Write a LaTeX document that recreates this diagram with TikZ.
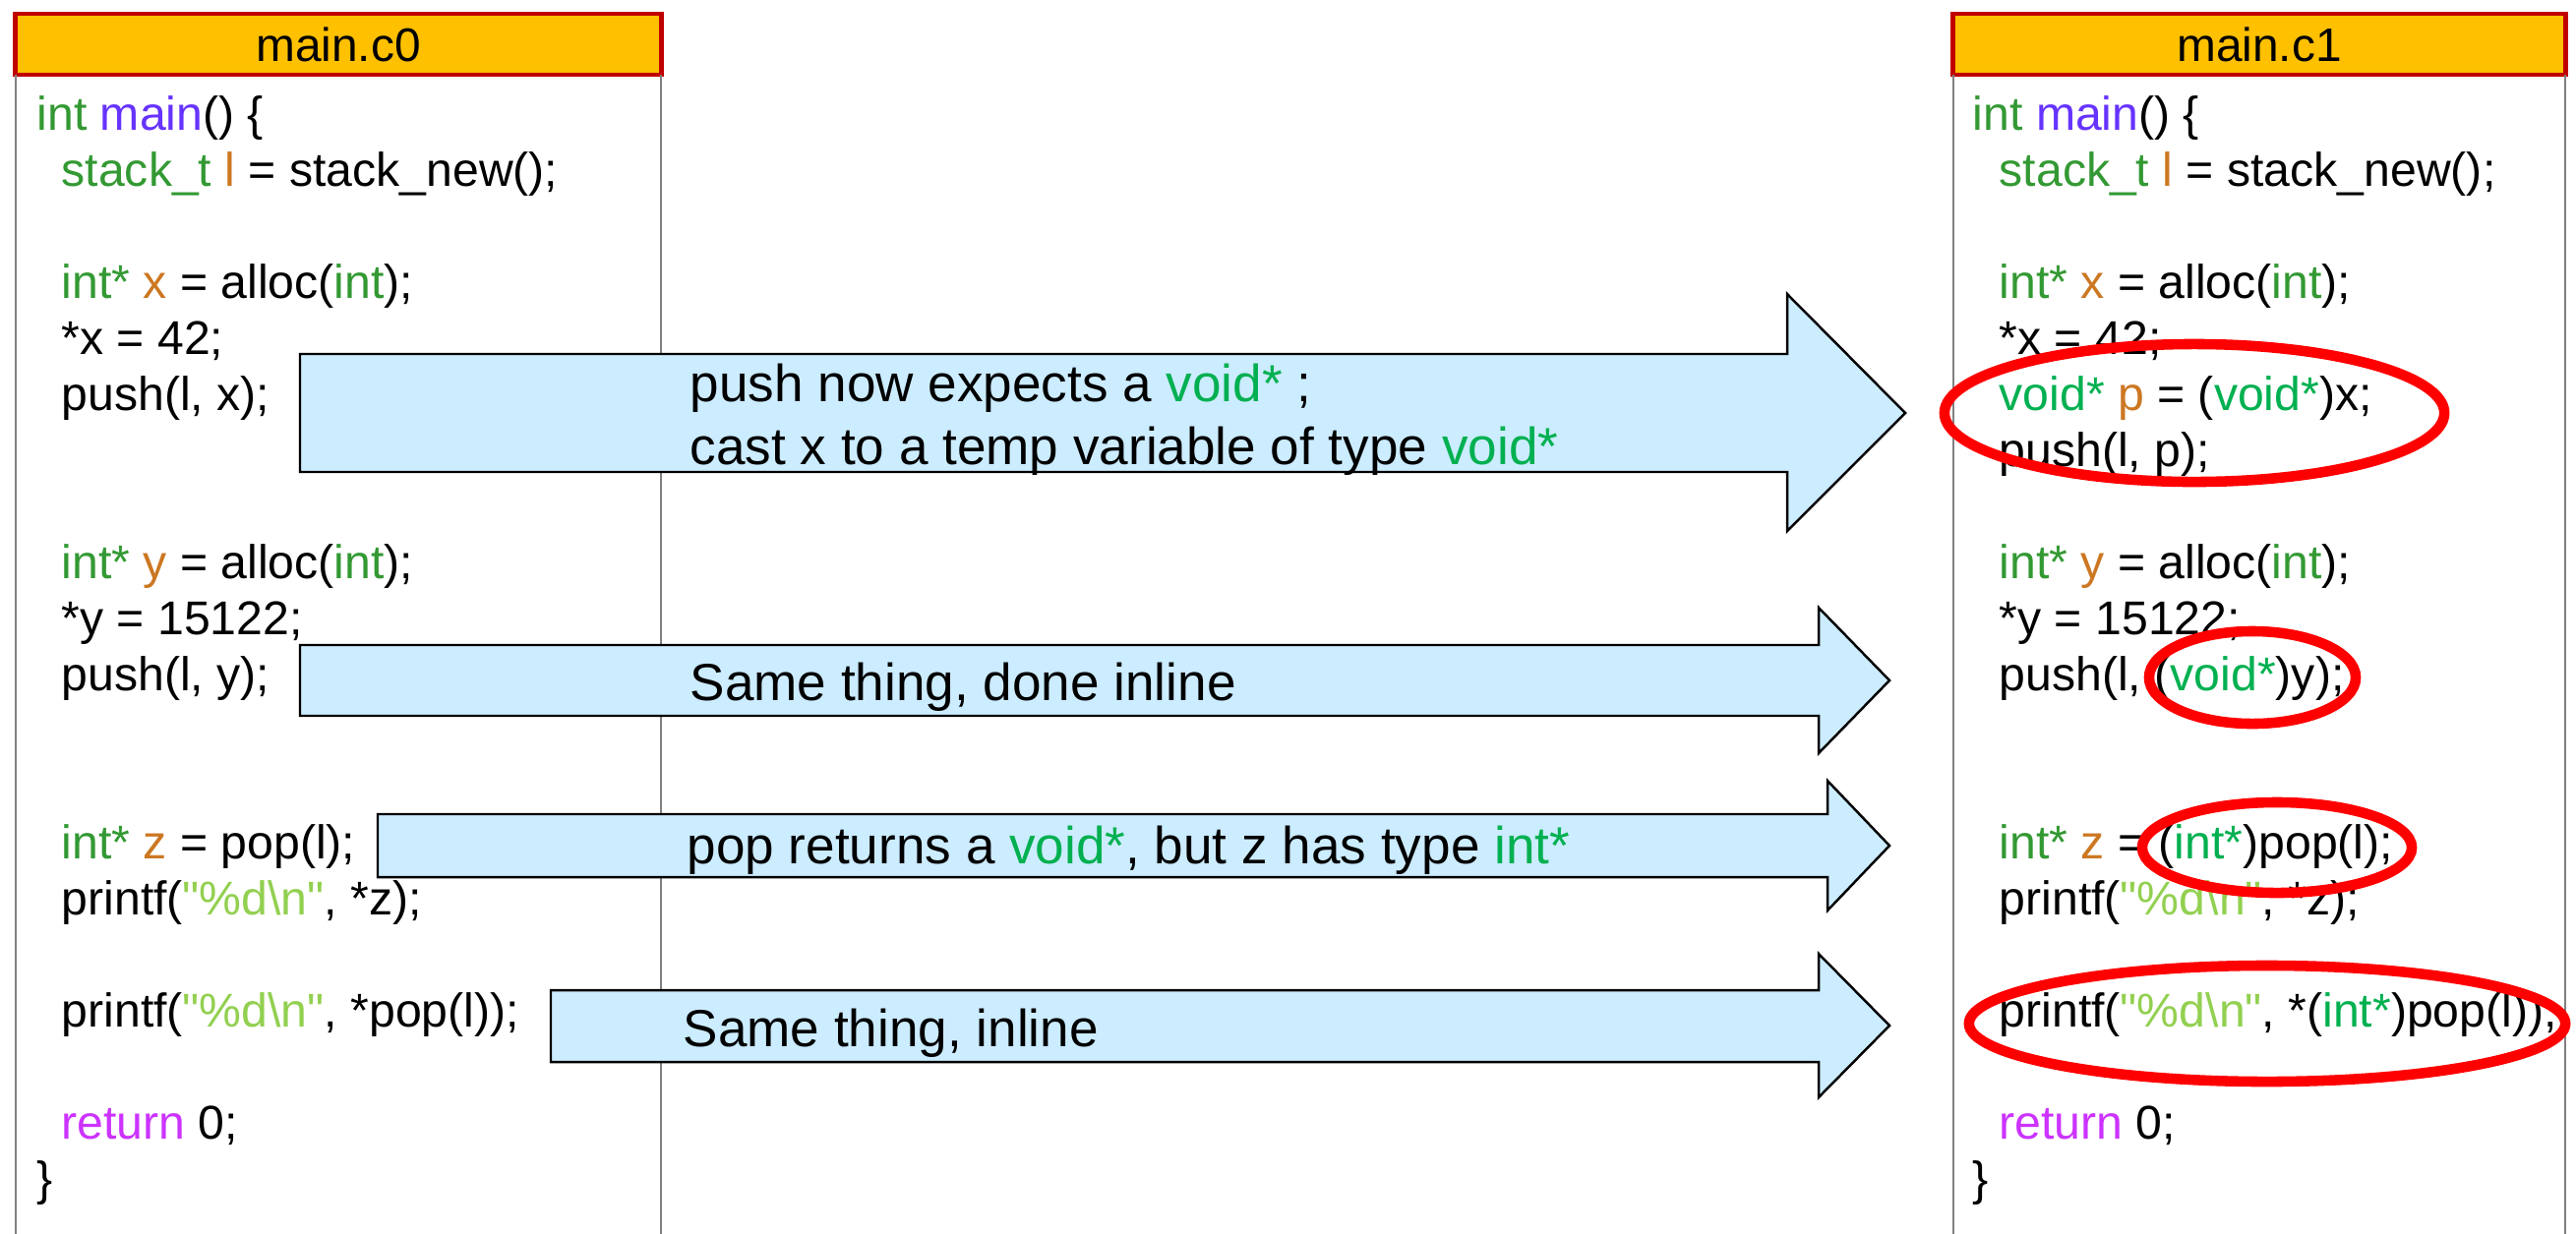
\documentclass[tikz,border=0pt]{standalone}
\usepackage{fontspec}
\setmainfont{Liberation Sans}[Ligatures=TeXOff]
\definecolor{titlegold}{RGB}{255,192,0}
\definecolor{titlered}{RGB}{192,0,0}
\definecolor{panelgray}{RGB}{128,128,128}
\definecolor{notefill}{RGB}{204,236,255}
\definecolor{typegreen}{RGB}{51,153,51}
\definecolor{castgreen}{RGB}{0,176,80}
\definecolor{fnviolet}{RGB}{102,51,255}
\definecolor{varorange}{RGB}{204,119,34}
\definecolor{strgreen}{RGB}{146,208,80}
\definecolor{retpink}{RGB}{204,51,255}
\usetikzlibrary{shapes.geometric}

\newcommand{\ctype}[1]{\textcolor{typegreen}{#1}}
\newcommand{\ccast}[1]{\textcolor{castgreen}{#1}}
\newcommand{\cfun}[1]{\textcolor{fnviolet}{#1}}
\newcommand{\cvar}[1]{\textcolor{varorange}{#1}}
\newcommand{\cstr}[1]{\textcolor{strgreen}{#1}}
\newcommand{\cret}[1]{\textcolor{retpink}{#1}}
\newcommand{\fmtstr}{\cstr{"\%d\textbackslash n"}}

\tikzset{
    titlebox/.style={rectangle, draw=titlered, fill=titlegold, line width=1.4pt, inner sep=0pt, outer sep=0pt, minimum height=0.62cm, font=\fontsize{13.6pt}{16pt}\selectfont},
    panelline/.style={draw=panelgray, line width=0.6pt},
    codeline/.style={anchor=base west, inner sep=0pt, font=\fontsize{13.7pt}{16pt}\selectfont},
    blockarrow/.style={draw=black, fill=notefill, line width=0.7pt, line join=miter},
    noteline/.style={anchor=base west, inner sep=0pt, font=\fontsize{15.1pt}{18pt}\selectfont},
    ringmark/.style={ellipse, draw=red, line width=3pt, inner sep=0pt}
}

\begin{document}
\begin{tikzpicture}[x=0.01cm, y=-0.01cm]
    \useasboundingbox (0,0) rectangle (2619,1254);

    % File headers and panel sides
    \node[titlebox, minimum width=6.56cm] (title0) at (344,45) {main.c0};
    \node[titlebox, minimum width=6.22cm] (title1) at (2297,45) {main.c1};
    \draw[panelline] (title0.south west) -- ++(0,1180);
    \draw[panelline] (title0.south east) -- ++(0,1180);
    \draw[panelline] (title1.south west) -- ++(0,1180);
    \draw[panelline] (title1.south east) -- ++(0,1180);

    % Code of main.c0
    \node[codeline] (c0-0) at (37,132) {\ctype{int} \cfun{main}() \{};
    \foreach \n/\txt in {
        1/{\ctype{stack\_t} \cvar{l} = stack\_new();},
        3/{\ctype{int*} \cvar{x} = alloc(\ctype{int});},
        4/{*x = 42;},
        5/{push(l, x);},
        8/{\ctype{int*} \cvar{y} = alloc(\ctype{int});},
        9/{*y = 15122;},
        10/{push(l, y);},
        13/{\ctype{int*} \cvar{z} = pop(l);},
        14/{printf(\fmtstr, *z);},
        16/{printf(\fmtstr, *pop(l));},
        18/{\cret{return} 0;}}
        \node[codeline] (c0-\n) at (62,132+57*\n) {\txt};
    \node[codeline] (c0-19) at (37,1215) {\}};

    % Code of main.c1
    \node[codeline] (c1-0) at (2005,132) {\ctype{int} \cfun{main}() \{};
    \foreach \n/\txt in {
        1/{\ctype{stack\_t} \cvar{l} = stack\_new();},
        3/{\ctype{int*} \cvar{x} = alloc(\ctype{int});},
        4/{*x = 42;},
        5/{\ccast{void*} \cvar{p} = (\ccast{void*})x;},
        6/{push(l, p);},
        8/{\ctype{int*} \cvar{y} = alloc(\ctype{int});},
        9/{*y = 15122;},
        10/{push(l, (\ccast{void*})y);},
        13/{\ctype{int*} \cvar{z} = (\ccast{int*})pop(l);},
        14/{printf(\fmtstr, *z);},
        16/{printf(\fmtstr, *(\ccast{int*})pop(l));},
        18/{\cret{return} 0;}}
        \node[codeline] (c1-\n) at (2032,132+57*\n) {\txt};
    \node[codeline] (c1-19) at (2005,1215) {\}};

    % Block arrows
    \draw[blockarrow] (305,360) -- (1817,360) -- (1817,299) -- (1937,420) -- (1817,540) -- (1817,480) -- (305,480) -- cycle;
    \draw[blockarrow] (305,656) -- (1849,656) -- (1849,618) -- (1921,692) -- (1849,766) -- (1849,728) -- (305,728) -- cycle;
    \draw[blockarrow] (384,828) -- (1858,828) -- (1858,794) -- (1921,860) -- (1858,926) -- (1858,892) -- (384,892) -- cycle;
    \draw[blockarrow] (560,1007) -- (1849,1007) -- (1849,970) -- (1921,1043) -- (1849,1116) -- (1849,1080) -- (560,1080) -- cycle;

    % Notes on the arrows
    \node[noteline] (note1a) at (701,408) {push now expects a \ccast{void*} ;};
    \node[noteline] (note1b) at (701,472) {cast x to a temp variable of type \ccast{void*}};
    \node[noteline] (note2) at (701,712) {Same thing, done inline};
    \node[noteline] (note3) at (698,878) {pop returns a \ccast{void*}, but z has type \ccast{int*}};
    \node[noteline] (note4) at (694,1064) {Same thing, inline};

    % Red rings round the changes
    \node[ringmark, minimum width=5.08cm, minimum height=1.40cm] (ring1) at (2231,420) {};
    \node[ringmark, minimum width=2.10cm, minimum height=0.94cm] (ring2) at (2290,689) {};
    \node[ringmark, minimum width=2.74cm, minimum height=0.92cm] (ring3) at (2315,862) {};
    \node[ringmark, minimum width=6.06cm, minimum height=1.18cm] (ring4) at (2305,1041) {};
\end{tikzpicture}
\end{document}
